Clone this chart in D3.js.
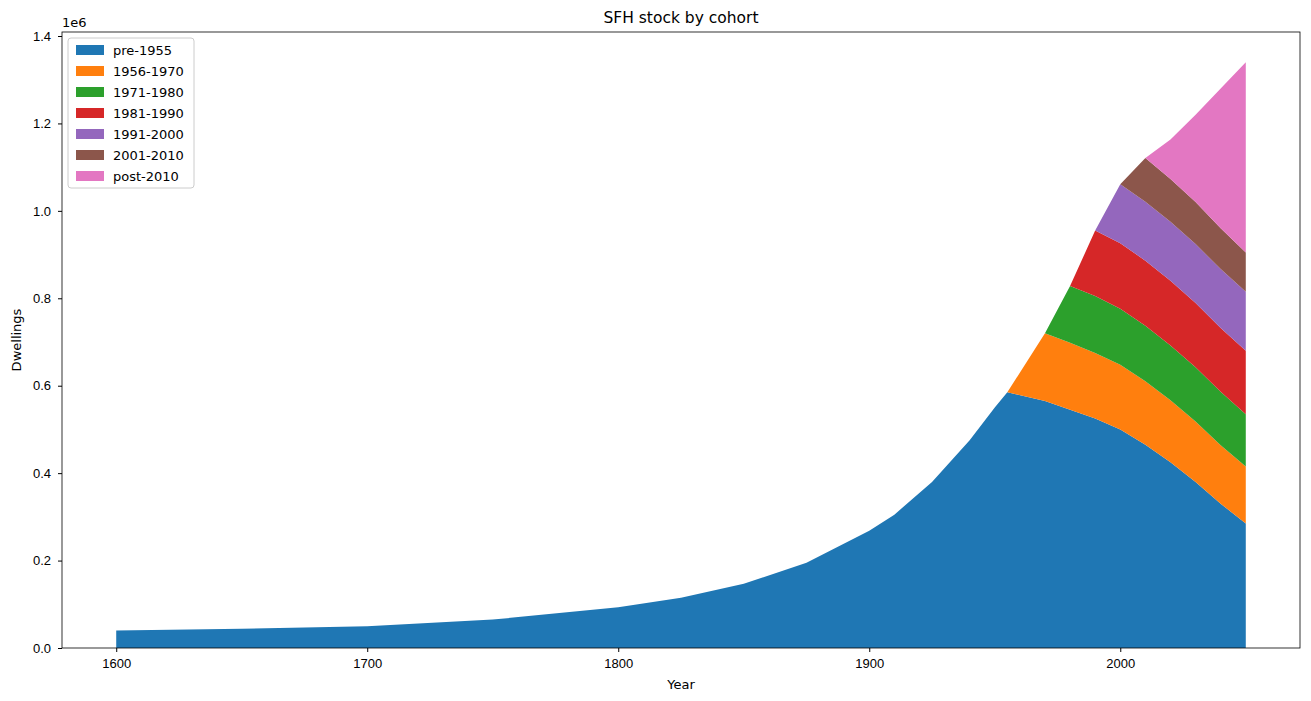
<!DOCTYPE html>
<html><head><meta charset="utf-8">
<script src="https://cdn.jsdelivr.net/npm/d3@7/dist/d3.min.js"></script>
<style>body{margin:0;background:#fff;font-family:"DejaVu Sans",sans-serif;}</style>
</head><body><svg id="chart" width="1311" height="701"></svg>
<script>
'use strict';

// sample years
const years = [1600,1650,1700,1750,1800,1825,1850,1875,1900,1910,1925,1940,1950,1955,1970,1980,1990,2000,2010,2020,2030,2040,2050];
const cohorts = ['pre-1955','1956-1970','1971-1980','1981-1990','1991-2000','2001-2010','post-2010'];
const colors = ['#1f77b4','#ff7f0e','#2ca02c','#d62728','#9467bd','#8c564b','#e377c2'];

// dwellings per cohort (millions), one value per sample year
const pre1955 = [.040,.044,.050,.065,.093,.115,.147,.195,.268,.305,.38,.475,.55,.585,.565,.545,.525,.50,.465,.425,.38,.33,.285];
const c1956 = [0,0,0,0,0,0,0,0,0,0,0,0,0,0,.155,.153,.15,.148,.145,.142,.138,.134,.13];
const c1971 = [0,0,0,0,0,0,0,0,0,0,0,0,0,0,0,.13,.13,.128,.127,.125,.124,.122,.12];
const c1981 = [0,0,0,0,0,0,0,0,0,0,0,0,0,0,0,0,.15,.15,.149,.148,.147,.146,.145];
const c1991 = [0,0,0,0,0,0,0,0,0,0,0,0,0,0,0,0,0,.135,.135,.135,.135,.135,.135];
const c2001 = [0,0,0,0,0,0,0,0,0,0,0,0,0,0,0,0,0,0,.10,.098,.096,.093,.09];
const post2010 = [0,0,0,0,0,0,0,0,0,0,0,0,0,0,0,0,0,0,0,.09,.20,.32,.435];
const series = [pre1955,c1956,c1971,c1981,c1991,c2001,post2010];
const yTicks = [0,0.2,0.4,0.6,0.8,1.0,1.2,1.4];
const xTicks = [1600,1700,1800,1900,2000];

const rows = years.map((y, i) => {
  let r = {year: y};
  cohorts.forEach((c, k) => { r[c] = series[k][i] * 1e6; });
  return r;
});

const svg = d3.select('#chart');
const L = 62, R = 1300, T = 32, B = 648;
const x = d3.scaleLinear().domain([1578.4, 2071.6]).range([L, R]);
const y = d3.scaleLinear().domain([0, 1.4e6]).range([B, 36]);

const stack = d3.stack().keys(cohorts)(rows);
const area = d3.area().x(d => x(d.data.year)).y0(d => y(d[0])).y1(d => y(d[1]));
svg.selectAll('path.layer').data(stack).enter().append('path')
  .attr('class', 'layer').attr('d', area).attr('fill', (d, i) => colors[i]);

svg.append('g').attr('transform', `translate(0,${B})`)
  .call(d3.axisBottom(x).tickValues(xTicks).tickFormat(d3.format('d')).tickSize(4).tickPadding(7))
  .call(g => g.selectAll('text').attr('font-size', 13).attr('fill', '#000'));
svg.append('g').attr('transform', `translate(${L},0)`)
  .call(d3.axisLeft(y).tickValues(yTicks.map(v => v * 1e6)).tickFormat(d => (d / 1e6).toFixed(1)).tickSize(4).tickPadding(7))
  .call(g => g.selectAll('text').attr('font-size', 13).attr('fill', '#000'));
svg.selectAll('.domain').remove();
svg.append('rect').attr('x', L).attr('y', T).attr('width', R - L).attr('height', B - T)
  .attr('fill', 'none').attr('stroke', '#000').attr('stroke-width', 0.8);

svg.append('text').attr('x', (L + R) / 2).attr('y', 23).attr('text-anchor', 'middle').attr('font-size', 15.5).text('SFH stock by cohort');
svg.append('text').attr('x', L).attr('y', 27).attr('font-size', 13).text('1e6');
svg.append('text').attr('x', (L + R) / 2).attr('y', 689).attr('text-anchor', 'middle').attr('font-size', 13).text('Year');
svg.append('text').attr('transform', `translate(21,${(T + B) / 2}) rotate(-90)`).attr('text-anchor', 'middle').attr('font-size', 13).text('Dwellings');

// legend
const lg = svg.append('g').attr('transform', 'translate(68,38)');
lg.append('rect').attr('width', 126).attr('height', 150).attr('rx', 3).attr('fill', '#fff').attr('fill-opacity', 0.8).attr('stroke', '#ccc');
cohorts.forEach((c, i) => {
  lg.append('rect').attr('x', 8).attr('y', 7 + i * 21).attr('width', 28).attr('height', 10).attr('fill', colors[i]);
  lg.append('text').attr('x', 45).attr('y', 17 + i * 21).attr('font-size', 13).text(c);
});
</script></body></html>
